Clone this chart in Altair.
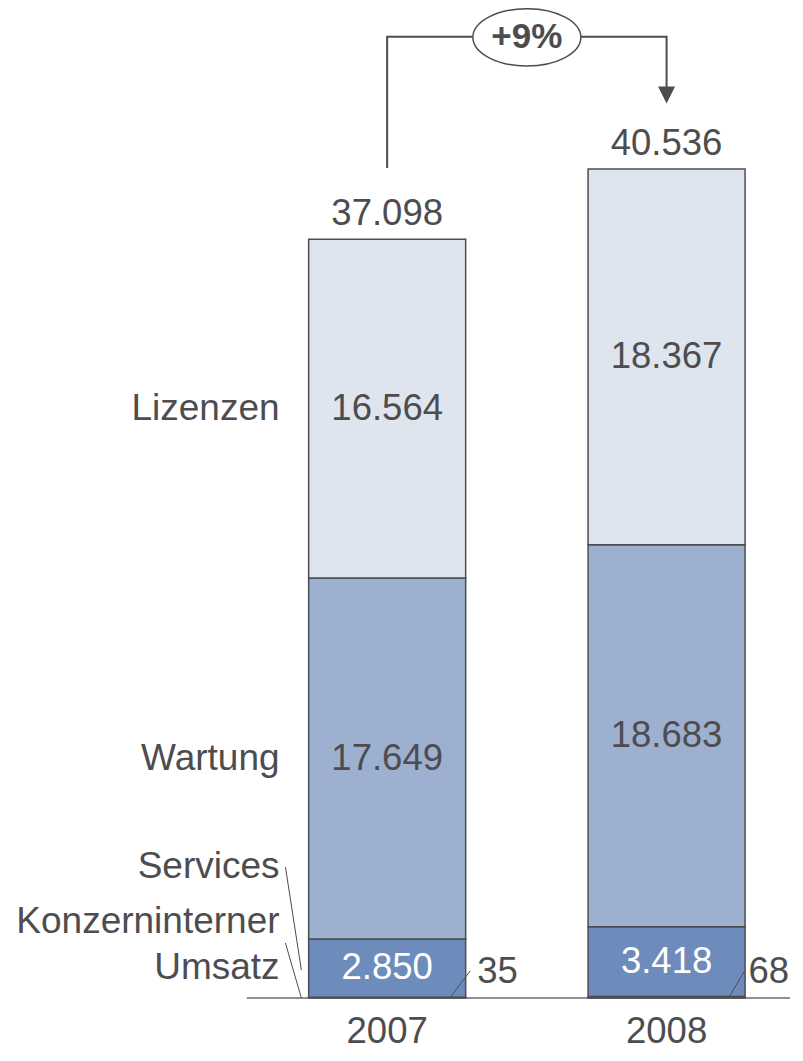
import altair as alt
import pandas as pd

# ---------------- data ----------------
years = [2007, 2008]
year_labels = ["2007", "2008"]
segments = ["Konzerninterner Umsatz", "Services", "Wartung", "Lizenzen"]
konzern = [35, 68]
services = [2850, 3418]
wartung = [17649, 18683]
lizenzen = [16564, 18367]
growth_label = "+9%"

seg_colors = ["#4b5a7a", "#6d8cbb", "#9eb0cf", "#dfe5ef"]
text_color = "#4d4d4f"
FONT = "Liberation Sans"
FS = 36.5


def de(v):
    return f"{v:,}".replace(",", ".")


rows = []
for i, yr in enumerate(years):
    base = 0
    for seg, vals in zip(segments, [konzern, services, wartung, lizenzen]):
        v = vals[i]
        rows.append(dict(year=yr, segment=seg, y0=base, y1=base + v,
                         mid=base + v / 2, label=de(v),
                         tcolor="white" if seg == "Services" else text_color))
        base += v
df = pd.DataFrame(rows)

tot = df.groupby("year", as_index=False)["y1"].max().rename(columns={"y1": "total"})
tot["label"] = tot["total"].map(de)
tot["ylab"] = year_labels
tot["ybottom"] = -1663

W, H = 787, 1045
XMAX = 2008.4417
xs = alt.Scale(domain=[2005.661, XMAX], nice=False, zero=False)
ys = alt.Scale(domain=[-2689, 48411], nice=False, zero=False)
X = lambda f: alt.X(f, type="quantitative", scale=xs, axis=None)
Y = lambda f: alt.Y(f, type="quantitative", scale=ys, axis=None)

# baseline
base_df = pd.DataFrame({"x": [2006.498], "x2": [XMAX], "y": [0]})
baseline = alt.Chart(base_df).mark_rule(color="#8f8f8f", strokeWidth=2).encode(
    x=X("x"), x2="x2", y=Y("y"))

bars = alt.Chart(df).mark_bar(size=157, stroke=text_color, strokeWidth=1.5).encode(
    x=X("year"), y=Y("y0"), y2="y1",
    color=alt.Color("segment:N", scale=alt.Scale(domain=segments, range=seg_colors), legend=None))

seg_text = alt.Chart(df[df.segment != "Konzerninterner Umsatz"]).mark_text(
    font=FONT, fontSize=FS, baseline="middle").encode(
    x=X("year"), y=Y("mid"), text="label:N", color=alt.Color("tcolor:N", scale=None))

tot_text = alt.Chart(tot).mark_text(font=FONT, fontSize=FS, baseline="alphabetic", dy=-14,
                                    color=text_color).encode(
    x=X("year"), y=Y("total"), text="label:N")

year_text = alt.Chart(tot).mark_text(font=FONT, fontSize=FS, baseline="middle",
                                     color=text_color).encode(
    x=X("year"), y=Y("ybottom"), text="ylab:N")

# small konzern labels to the right of bars
kz = df[df.segment == "Konzerninterner Umsatz"].copy()
kz["xl"] = [2007.322, 2008.293]
kz["yl"] = 1271
small_text = alt.Chart(kz).mark_text(font=FONT, fontSize=FS, baseline="middle", align="left",
                                     color=text_color).encode(
    x=X("xl"), y=Y("yl"), text="label:N")
kz_lines = pd.DataFrame({
    "x": [2007.224, 2008.222], "x2": [2007.297, 2008.279],
    "y": [0, 0], "y2": [1320, 1320]})
small_lines = alt.Chart(kz_lines).mark_rule(color=text_color, strokeWidth=1).encode(
    x=X("x"), x2="x2", y=Y("y"), y2="y2")

# left category labels
mid07 = df[df.year == 2007].set_index("segment")["mid"]
left_df = pd.DataFrame({
    "text": ["Lizenzen", "Wartung", "Services", "Konzerninterner", "Umsatz"],
    "y": [mid07["Lizenzen"], mid07["Wartung"], 6406, 3716, 1467],
    "x": [2006.615] * 5})
left_text = alt.Chart(left_df).mark_text(font=FONT, fontSize=37, baseline="middle", align="right",
                                         color=text_color).encode(
    x=X("x"), y=Y("y"), text="text:N")
left_lines_df = pd.DataFrame({
    "x": [2006.636, 2006.636], "x2": [2006.693, 2006.693],
    "y": [6406, 2689], "y2": [1369, 0]})
left_lines = alt.Chart(left_lines_df).mark_rule(color=text_color, strokeWidth=1).encode(
    x=X("x"), x2="x2", y=Y("y"), y2="y2")

# growth arrow
t07, t08 = tot["total"].tolist()
top_level = 47000
path_df = pd.DataFrame({
    "x": [2007, 2007, 2008, 2008],
    "y": [t07 + 3490, top_level, top_level, t08 + 3963],
    "o": [0, 1, 2, 3]})
arrow_line = alt.Chart(path_df).mark_line(color=text_color, strokeWidth=2).encode(
    x=X("x"), y=Y("y"), order="o:Q")
head_df = pd.DataFrame({"x": [2008], "y": [t08 + 3620]})
arrow_head = alt.Chart(head_df).mark_point(
    shape="M-1,-1L1,-1L0,1Z", size=289, filled=True, color=text_color, opacity=1).encode(
    x=X("x"), y=Y("y"))
ell_df = pd.DataFrame({"x": [2007.5], "y": [46975], "t": [growth_label]})
ellipse = alt.Chart(ell_df).mark_point(
    shape="M-1,0A1,0.53,0,1,1,1,0A1,0.53,0,1,1,-1,0Z", size=11664, filled=True,
    fill="white", stroke=text_color, strokeWidth=1.5, opacity=1).encode(
    x=X("x"), y=Y("y"))
growth_text = alt.Chart(ell_df).mark_text(font=FONT, fontSize=35, fontWeight="bold",
                                          baseline="middle", color=text_color).encode(
    x=X("x"), y=Y("y"), text="t:N")

chart = alt.layer(
    baseline, bars, seg_text, tot_text, year_text, small_lines, small_text,
    left_lines, left_text, arrow_line, arrow_head, ellipse, growth_text
).properties(width=W, height=H, padding=0,
             autosize=alt.AutoSizeParams(type="none")).configure_view(stroke=None)

chart.save("out.html", embed_options={"renderer": "svg", "actions": False})
